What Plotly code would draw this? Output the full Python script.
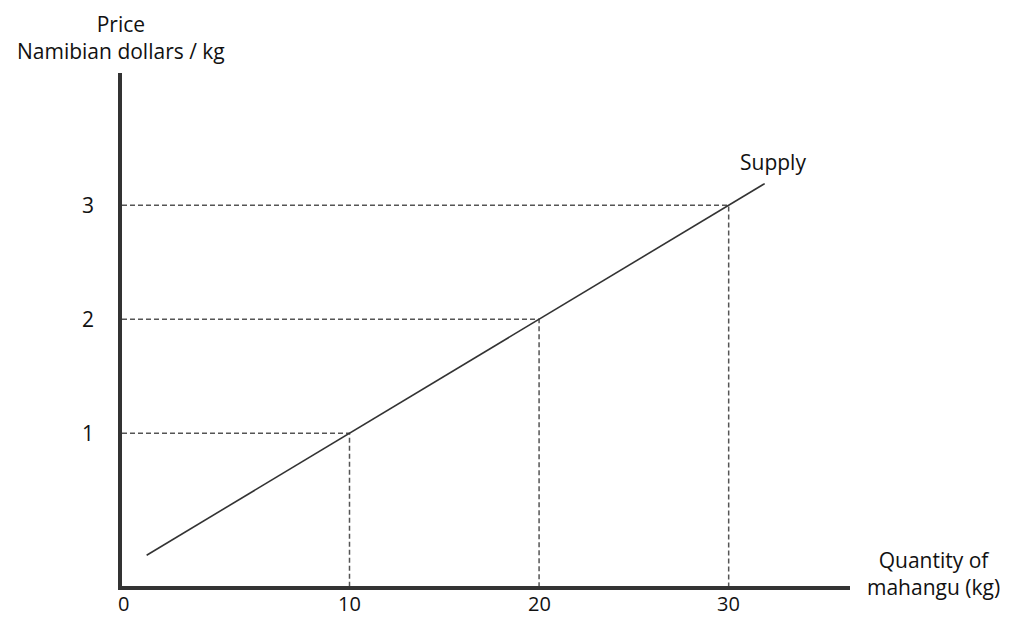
import plotly.graph_objects as go

# Data
quantities = [10, 20, 30]
prices = [1, 2, 3]
supply_x = [-0.7, 31.9]
supply_y = [-0.07, 3.19]
x_tick_labels = ["10", "20", "30"]
y_tick_labels = ["1", "2", "3"]

X_MIN, X_MAX = -2.0, 36.4
Y_MIN, Y_MAX = -0.34, 4.16

FONT = "Open Sans"
FS = 21
fig = go.Figure()

# Dashed guide lines
for q, p in zip(quantities, prices):
    fig.add_trace(go.Scatter(x=[X_MIN, q, q], y=[p, p, Y_MIN], mode="lines",
                             line=dict(color="#555555", width=1.5, dash="5px,3px"),
                             hoverinfo="skip", showlegend=False))

# Supply line
fig.add_trace(go.Scatter(x=supply_x, y=supply_y, mode="lines",
                         line=dict(color="#333333", width=1.6),
                         showlegend=False))

fig.update_layout(
    width=1017, height=617,
    margin=dict(l=122, r=167, t=73, b=31),
    paper_bgcolor="white", plot_bgcolor="white",
    font=dict(family=FONT, size=FS, color="#111111"),
    xaxis=dict(range=[X_MIN, X_MAX], showgrid=False, zeroline=False,
               showline=True, linecolor="#333333", linewidth=3.5,
               tickvals=quantities, ticktext=x_tick_labels, ticks="",
               showticklabels=False, automargin=False),
    yaxis=dict(range=[Y_MIN, Y_MAX], showgrid=False, zeroline=False,
               showline=True, linecolor="#333333", linewidth=3.5,
               tickvals=prices, ticktext=y_tick_labels, ticks="",
               automargin=False, ticklabelstandoff=20,
               tickfont=dict(family=FONT, size=FS)),
)

# x tick labels placed just below the axis line
for q, t in zip(quantities, x_tick_labels):
    fig.add_annotation(text=t, xref="x", yref="paper", x=q, y=0, yshift=-17,
                       xanchor="center", yanchor="middle", showarrow=False,
                       font=dict(family=FONT, size=20, color="#111111"))

PW = 1017 - 122 - 167
PH = 617 - 73 - 31
annots = [
    dict(text="Price<br>Namibian dollars / kg", x=121, y=37, fs=FS),
    dict(text="Supply", x=773, y=162, fs=FS),
    dict(text="Quantity of<br>mahangu (kg)", x=933, y=573, fs=FS),
    dict(text="0", x=123, y=603, fs=20),
]
for a in annots:
    fig.add_annotation(text=a["text"], xref="paper", yref="paper",
                       x=(a["x"] - 122) / PW,
                       y=(617 - 31 - a["y"]) / PH,
                       xanchor="center", yanchor="middle", showarrow=False,
                       align="center", font=dict(family=FONT, size=a["fs"], color="#111111"))

fig.write_html("out.html", config={"displayModeBar": False},
               post_script="document.body.style.margin='0';")
